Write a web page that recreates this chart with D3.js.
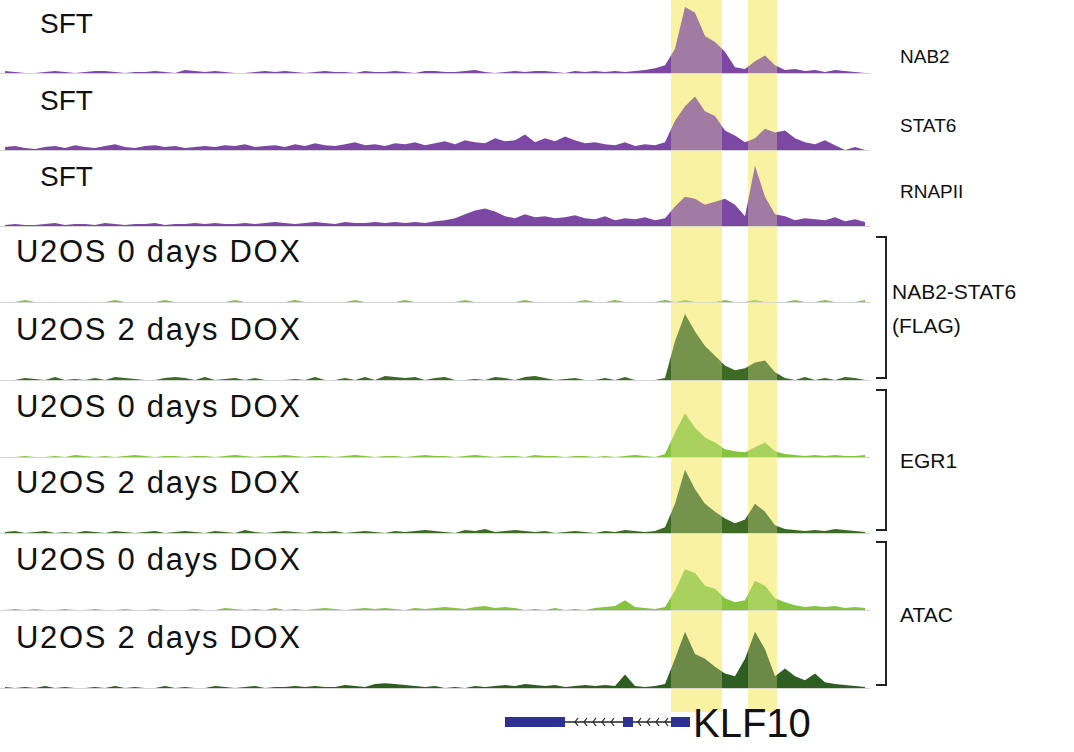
<!DOCTYPE html>
<html><head><meta charset="utf-8">
<script src="https://cdn.jsdelivr.net/npm/d3@7"></script>
<style>body{margin:0;background:#fff}text{font-family:"Liberation Sans",Arial,sans-serif}</style>
</head><body>
<script>
// coverage per 10px bin (87 bins), signal height units
var nab2 = [2,1,0,0,1,2,1,0,1,2,2,1,0,1,1,2,1,0,3,2, 1,2,1,0,0,1,2,1,2,1,0,1,2,1,1,0,2,1,1,2, 1,0,2,2,1,1,2,3,1,0,1,2,1,2,2,1,0,2,1,2, 1,2,1,2,3,5,8, 25,68,62,38,32,22,6,4,12,18,8, 3,4,2,3,1,3,2,1,0];
var stat6 = [3,4,2,1,3,4,2,5,3,2,4,6,3,2,4,5,3,4,2,3, 4,3,5,4,6,3,4,5,3,6,4,7,5,4,6,8,5,6,4,7, 6,8,5,7,9,6,10,8,7,12,9,10,16,8,12,9,14,10,7,8, 6,5,8,4,6,5,8, 30,45,55,40,35,20,15,8,12,22,18, 20,12,8,6,10,5,0,3,0];
var rnapii = [1,2,1,1,2,3,1,2,2,1,3,2,1,2,2,3,1,2,2,3, 2,3,2,2,3,2,3,4,3,2,3,4,3,2,4,3,3,4,3,4, 3,4,3,5,6,8,12,16,18,15, 10,8,12,9,10,8,9,11,8,7,10,6,8,7,9,6,8, 20,30,28,22,25,28,22,10,62,30,12, 10,6,8,7,6,9,5,7,4];
var flag0 = [0,0,2,0,0,0,0,0,0,0,0,2,0,0,0,0,2,0,0,0, 0,0,0,2,0,0,0,0,0,2,0,0,0,0,0,2,0,0,0,0, 2,0,0,0,0,0,2,0,0,0,0,0,2,0,0,0,0,0,2,0, 0,2,0,0,0,0,2, 0,2,0,0,0,2,0,0,2,0,0, 0,2,0,0,2,0,0,0,2];
var flag2 = [0,0,2,1,0,3,0,1,0,2,0,3,2,1,0,0,2,3,2,0, 3,0,1,2,0,2,0,0,0,1,0,3,0,0,2,0,3,0,4,3, 2,3,0,2,3,0,0,1,0,3,2,0,3,4,2,0,1,2,0,0, 2,0,3,0,0,0,2, 40,68,50,35,25,15,10,12,18,20,8, 2,0,3,0,2,0,3,2,0];
var egr0 = [0,0,1,0,0,1,0,2,1,0,1,0,1,2,1,0,1,1,0,1, 1,0,1,2,1,0,1,1,2,1,0,1,1,0,1,2,1,0,1,1, 0,1,2,1,1,0,1,2,1,0,1,1,0,2,1,1,0,1,1,0, 1,0,1,2,1,0,3, 25,45,30,20,15,8,6,5,10,15,6, 3,2,1,2,1,2,1,1,2];
var egr2 = [1,2,0,1,2,0,1,0,2,1,0,2,1,0,1,2,0,1,2,1, 0,2,1,0,3,1,0,1,2,1,0,2,1,2,0,1,2,1,0,2, 1,2,3,2,1,0,3,2,4,1,2,3,2,1,2,0,1,2,1,0, 2,1,3,2,1,2,6, 30,65,45,30,22,15,10,14,30,22,8, 4,3,2,3,2,4,3,2,1];
var atac0 = [0,1,0,1,0,0,1,0,0,1,0,0,1,0,0,1,0,0,0,1, 0,0,2,1,0,1,0,2,0,1,0,1,2,1,0,1,2,1,2,1, 0,2,1,2,3,2,1,3,4,2,3,2,0,1,0,2,0,1,0,2, 3,4,10,3,2,1,3, 20,42,38,25,22,12,8,10,30,25,12, 8,5,3,4,3,4,2,3,2];
var atac2 = [1,0,1,0,2,0,1,0,0,1,0,2,0,1,0,0,2,0,1,0, 0,2,1,0,1,2,0,1,1,2,1,2,1,1,3,2,1,4,5,4, 3,2,1,2,0,1,0,2,1,2,3,2,4,3,2,3,1,2,3,2, 3,2,14,2,1,2,4, 30,58,35,30,22,15,12,30,58,40,12, 20,12,8,15,6,4,3,2,1];

var trackNames = ["NAB2", "STAT6", "RNAPII"];
var sampleLabels = ["SFT", "SFT", "SFT", "U2OS 0 days DOX", "U2OS 2 days DOX", "U2OS 0 days DOX", "U2OS 2 days DOX", "U2OS 0 days DOX", "U2OS 2 days DOX"];
var series = [nab2, stat6, rnapii, flag0, flag2, egr0, egr2, atac0, atac2];
var groupNames = [["NAB2-STAT6", "(FLAG)"], ["EGR1"], ["ATAC"]];

var bases = [73, 150, 226, 302, 380, 457, 533, 610, 688];
var rightY = [63, 132, 198];
var groupBox = [[237, 378], [390, 530], [542, 685]];
var highlights = [[671, 722], [748, 777]];

var svg = d3.select("body").append("svg").attr("width", 1074).attr("height", 752);
var x = d3.scaleLinear().domain([0, 86]).range([5, 865]);
var h = d3.scaleLinear().domain([0, 70]).range([0, 68]);
var colors = ["#7d48a3","#7d48a3","#7d48a3","#86c440","#3d6b25","#86c440","#3d6b25","#86c440","#2f5e22"];

svg.selectAll("rect.hl").data(highlights).enter().append("rect")
  .attr("x", d => d[0]).attr("width", d => d[1] - d[0])
  .attr("y", 0).attr("height", 712).attr("fill", "#f8f3a3");

series.forEach(function(s, i){
  var base = bases[i];
  svg.append("line").attr("x1", 0).attr("x2", 870).attr("y1", base + 0.5).attr("y2", base + 0.5)
    .attr("stroke", "#d3d3d3");
  var area = d3.area().x((d, j) => x(j)).y0(base).y1(d => base - h(d)).curve(d3.curveLinear);
  svg.append("path").datum(s).attr("d", area).attr("fill", colors[i]);
  svg.append("text").attr("x", i < 3 ? 40 : 16).attr("y", base - 40)
    .attr("font-size", i < 3 ? 28 : 31).attr("fill", "#111")
    .attr("textLength", i < 3 ? null : 284).text(sampleLabels[i]);
  if (i < 3) svg.append("text").attr("x", 900).attr("y", rightY[i])
    .attr("font-size", 19).attr("fill", "#111").text(trackNames[i]);
});

svg.selectAll("rect.ov").data(highlights).enter().append("rect")
  .attr("x", d => d[0]).attr("width", d => d[1] - d[0])
  .attr("y", 0).attr("height", 712).attr("fill", "#f8f3a3").attr("opacity", 0.3);

groupNames.forEach(function(name, gi){
  var top = groupBox[gi][0], bot = groupBox[gi][1];
  svg.append("path").attr("d", "M876," + top + "H886V" + bot + "H876")
    .attr("fill", "none").attr("stroke", "#222").attr("stroke-width", 2);
  var mid = (top + bot) / 2;
  name.forEach(function(n, k){
    svg.append("text").attr("x", name.length > 1 ? 892 : 900)
      .attr("y", mid + 8 + (k - (name.length - 1) / 2) * 34)
      .attr("font-size", 21).attr("fill", "#111").text(n);
  });
});

// gene model
var gy = 722;
svg.append("line").attr("x1", 565).attr("x2", 680).attr("y1", gy).attr("y2", gy).attr("stroke", "#222").attr("stroke-width", 1.5);
d3.range(575, 670, 9).forEach(function(ax){
  if (ax > 618 && ax < 636) return;
  svg.append("path").attr("d", "M" + (ax + 3) + "," + (gy - 4) + "L" + ax + "," + gy + "L" + (ax + 3) + "," + (gy + 4))
    .attr("fill", "none").attr("stroke", "#222").attr("stroke-width", 1.2);
});
[[505, 565, 10], [623, 633, 10], [671, 690, 10]].forEach(function(b){
  svg.append("rect").attr("x", b[0]).attr("width", b[1] - b[0]).attr("y", gy - b[2] / 2).attr("height", b[2]).attr("fill", "#2e3192");
});
svg.append("text").attr("x", 693).attr("y", 737).attr("font-size", 40).attr("fill", "#111").text("KLF10");
</script>
</body></html>
